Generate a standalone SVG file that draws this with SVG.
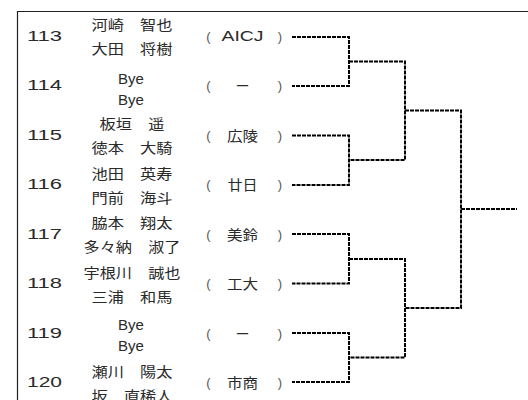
<svg xmlns="http://www.w3.org/2000/svg" width="528" height="400" viewBox="0 0 528 400">
<style>
.num{font-family:"Liberation Sans",Arial,sans-serif;font-size:14px;fill:#2a2a2a;text-anchor:middle}
.nm{font-family:"Noto Sans CJK JP","Noto Sans CJK SC",sans-serif;font-size:14px;fill:#2a2a2a;text-anchor:middle}
.bye{font-family:"Liberation Sans",Arial,sans-serif;font-size:15px;fill:#2a2a2a;text-anchor:middle}
.lat{font-family:"Liberation Sans",Arial,sans-serif;font-size:15px;fill:#2a2a2a;text-anchor:middle}
.par{font-family:"Liberation Sans",Arial,sans-serif;font-size:13px;fill:#555;text-anchor:middle}
.conn{fill:none;stroke:#000;stroke-width:2;stroke-dasharray:4 1}
.frame{fill:none;stroke:#222;stroke-width:1.2}
</style>
<rect width="528" height="400" fill="#fff"/>
<path class="frame" d="M17.5,400 V11.5 H528"/>

<g id="entry-113">
<text class="num" x="44.5" y="40.5" textLength="35" lengthAdjust="spacingAndGlyphs">113</text>
<text class="nm" x="132" y="29.7" textLength="81" lengthAdjust="spacingAndGlyphs">河崎　智也</text>
<text class="nm" x="132" y="53.7" textLength="81" lengthAdjust="spacingAndGlyphs">大田　将樹</text>
<text class="par" x="208.3" y="40.5">(</text>
<text class="lat" x="242.5" y="40.5" textLength="42" lengthAdjust="spacingAndGlyphs">AICJ</text>
<text class="par" x="280" y="40.5">)</text>
</g>
<g id="entry-114">
<text class="num" x="44.5" y="90.1" textLength="35" lengthAdjust="spacingAndGlyphs">114</text>
<text class="bye" x="131" y="83.8">Bye</text>
<text class="bye" x="131" y="104.8">Bye</text>
<text class="par" x="208.3" y="90.1">(</text>
<text class="nm" x="242.5" y="91.1">ー</text>
<text class="par" x="280" y="90.1">)</text>
</g>
<g id="entry-115">
<text class="num" x="44.5" y="139.6" textLength="35" lengthAdjust="spacingAndGlyphs">115</text>
<text class="nm" x="132" y="129" textLength="64.8" lengthAdjust="spacingAndGlyphs">板垣　遥</text>
<text class="nm" x="132" y="153" textLength="81" lengthAdjust="spacingAndGlyphs">徳本　大騎</text>
<text class="par" x="208.3" y="139.6">(</text>
<text class="nm" x="242.5" y="140.6" textLength="31" lengthAdjust="spacingAndGlyphs">広陵</text>
<text class="par" x="280" y="139.6">)</text>
</g>
<g id="entry-116">
<text class="num" x="44.5" y="189.2" textLength="35" lengthAdjust="spacingAndGlyphs">116</text>
<text class="nm" x="132" y="178.7" textLength="81" lengthAdjust="spacingAndGlyphs">池田　英寿</text>
<text class="nm" x="132" y="202.7" textLength="81" lengthAdjust="spacingAndGlyphs">門前　海斗</text>
<text class="par" x="208.3" y="189.2">(</text>
<text class="nm" x="242.5" y="190.2" textLength="30" lengthAdjust="spacingAndGlyphs">廿日</text>
<text class="par" x="280" y="189.2">)</text>
</g>
<g id="entry-117">
<text class="num" x="44.5" y="238.7" textLength="35" lengthAdjust="spacingAndGlyphs">117</text>
<text class="nm" x="132" y="228.3" textLength="81" lengthAdjust="spacingAndGlyphs">脇本　翔太</text>
<text class="nm" x="132" y="252.3" textLength="97" lengthAdjust="spacingAndGlyphs">多々納　淑了</text>
<text class="par" x="208.3" y="238.7">(</text>
<text class="nm" x="242.5" y="239.7" textLength="31" lengthAdjust="spacingAndGlyphs">美鈴</text>
<text class="par" x="280" y="238.7">)</text>
</g>
<g id="entry-118">
<text class="num" x="44.5" y="288.3" textLength="35" lengthAdjust="spacingAndGlyphs">118</text>
<text class="nm" x="132" y="278" textLength="97" lengthAdjust="spacingAndGlyphs">宇根川　誠也</text>
<text class="nm" x="132" y="302" textLength="81" lengthAdjust="spacingAndGlyphs">三浦　和馬</text>
<text class="par" x="208.3" y="288.3">(</text>
<text class="nm" x="242.5" y="289.3" textLength="31" lengthAdjust="spacingAndGlyphs">工大</text>
<text class="par" x="280" y="288.3">)</text>
</g>
<g id="entry-119">
<text class="num" x="44.5" y="337.8" textLength="35" lengthAdjust="spacingAndGlyphs">119</text>
<text class="bye" x="131" y="330">Bye</text>
<text class="bye" x="131" y="351">Bye</text>
<text class="par" x="208.3" y="337.8">(</text>
<text class="nm" x="242.5" y="338.8">ー</text>
<text class="par" x="280" y="337.8">)</text>
</g>
<g id="entry-120">
<text class="num" x="44.5" y="387.4" textLength="35" lengthAdjust="spacingAndGlyphs">120</text>
<text class="nm" x="132" y="377.3" textLength="81" lengthAdjust="spacingAndGlyphs">瀬川　陽太</text>
<text class="nm" x="132" y="401.3" textLength="81" lengthAdjust="spacingAndGlyphs">坂　直稀人</text>
<text class="par" x="208.3" y="387.4">(</text>
<text class="nm" x="242.5" y="388.4" textLength="31" lengthAdjust="spacingAndGlyphs">市商</text>
<text class="par" x="280" y="387.4">)</text>
</g>

<g id="connectors">
<path class="conn" d="M292,37 H349 V86 H292"/>
<path class="conn" d="M292,135.5 H349 V185 H292"/>
<path class="conn" d="M292,234 H349 V283.5 H292"/>
<path class="conn" d="M292,333 H349 V382 H292"/>
<path class="conn" d="M349,61.5 H405 V160 H349"/>
<path class="conn" d="M349,259 H405 V357.5 H349"/>
<path class="conn" d="M405,110.5 H461 V308 H405"/>
<path class="conn" d="M461,209 H517"/>
</g>
</svg>
